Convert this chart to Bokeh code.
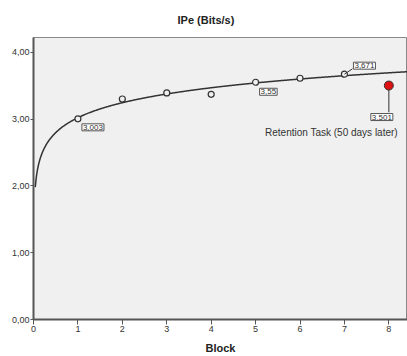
import numpy as np
from bokeh.plotting import figure
from bokeh.models import Label, FixedTicker
from bokeh.embed import file_html
from bokeh.resources import INLINE

# ---- data ----
blocks = [1, 2, 3, 4, 5, 6, 7]
ipe = [3.003, 3.30, 3.39, 3.37, 3.55, 3.61, 3.671]
retention_block = [8]
retention_ipe = [3.501]
labeled_blocks = [1, 5, 7]
labeled_text = ["3,003", "3,55", "3,671"]
retention_text = ["3,501"]
x_ticks = [0, 1, 2, 3, 4, 5, 6, 7, 8]
y_ticks = [0, 1, 2, 3, 4]
y_tick_labels = ["0,00", "1,00", "2,00", "3,00", "4,00"]
title_text = "IPe (Bits/s)"
x_title = "Block"
retention_caption = "Retention Task (50 days later)"

FONT = "Liberation Sans"
X_END, Y_END = 8.42, 4.22

# logarithmic fit from the block data
lx = np.log(np.array(blocks, dtype=float))
b, a = np.polyfit(lx, np.array(ipe), 1)
xs = np.linspace(0.04, 8.45, 600)
ys = a + b * np.log(xs)

p = figure(width=407, height=356, x_range=(0, X_END), y_range=(0, Y_END),
           output_backend="svg", toolbar_location=None,
           min_border_left=33, min_border_right=0, min_border_top=37,
           min_border_bottom=36)

p.title.text = title_text
p.title.align = "left"
p.title.offset = 144
p.title.standoff = 23
p.title.text_font = FONT
p.title.text_font_size = "11px"
p.title.text_font_style = "bold"
p.title.text_color = "#222222"

p.background_fill_color = "#f0f0f0"
p.border_fill_color = "white"
p.outline_line_color = "#888888"
p.outline_line_width = 1
p.xgrid.visible = False
p.ygrid.visible = False

for ax in (p.xaxis[0], p.yaxis[0]):
    ax.axis_line_color = "#555555"
    ax.axis_line_width = 2
    ax.major_tick_line_color = "#555555"
    ax.major_tick_line_width = 1
    ax.major_tick_in = 0
    ax.minor_tick_line_color = None
    ax.major_label_text_font = FONT
    ax.major_label_text_font_size = "9px"
    ax.major_label_text_color = "#333333"
p.yaxis.major_tick_out = 3
p.yaxis.major_label_standoff = 1
p.xaxis.major_tick_out = 5
p.xaxis.major_label_standoff = 1

p.xaxis.ticker = FixedTicker(ticks=x_ticks)
p.yaxis.ticker = FixedTicker(ticks=y_ticks)
p.yaxis.major_label_overrides = {t: l for t, l in zip(y_ticks, y_tick_labels)}

p.xaxis.axis_label = x_title
p.xaxis.axis_label_text_font = FONT
p.xaxis.axis_label_text_font_size = "11px"
p.xaxis.axis_label_text_font_style = "bold"
p.xaxis.axis_label_text_color = "#222222"
p.xaxis.axis_label_standoff = 7

# fit curve
p.line(xs, ys, line_color="#333333", line_width=1.5)

# observed points
p.scatter(blocks, ipe, size=6, marker="circle", fill_color="#f0f0f0",
          line_color="#333333", line_width=1.2)

# connectors
lab_y = dict(zip(blocks, ipe))
p.segment(x0=retention_block, y0=retention_ipe, x1=retention_block,
          y1=[retention_ipe[0] - 0.40], line_color="#333333", line_width=1)
p.segment(x0=[labeled_blocks[2]], y0=[lab_y[labeled_blocks[2]]],
          x1=[labeled_blocks[2] + 0.18], y1=[lab_y[labeled_blocks[2]] + 0.08],
          line_color="#333333", line_width=1)
p.scatter(retention_block, retention_ipe, size=9, marker="circle",
          fill_color="#dd1111", line_color="#333333", line_width=1)

offsets = {1: (4, -5), 5: (4, -6), 7: (9, 5)}
for bx, txt in zip(labeled_blocks, labeled_text):
    dx, dy = offsets[bx]
    p.add_layout(Label(x=bx, y=lab_y[bx], text=txt, x_offset=dx, y_offset=dy,
                       text_align="left", text_baseline="top" if dy < 0 else "bottom",
                       text_font=FONT, text_font_size="8px", text_color="#333333",
                       background_fill_color="white", border_line_color="#555555",
                       border_line_width=1, padding=1))

p.add_layout(Label(x=retention_block[0], y=retention_ipe[0], text=retention_text[0],
                   x_offset=-7, y_offset=-28, text_align="center", text_baseline="top",
                   text_font=FONT, text_font_size="8px", text_color="#333333",
                   background_fill_color="white", border_line_color="#555555",
                   border_line_width=1, padding=1))
p.add_layout(Label(x=retention_block[0], y=retention_ipe[0],
                   text=retention_caption, x_offset=9, y_offset=-47,
                   text_align="right", text_baseline="middle", text_font=FONT,
                   text_font_size="10px", text_color="#333333"))

open("out.html", "w").write(file_html(p, INLINE))
